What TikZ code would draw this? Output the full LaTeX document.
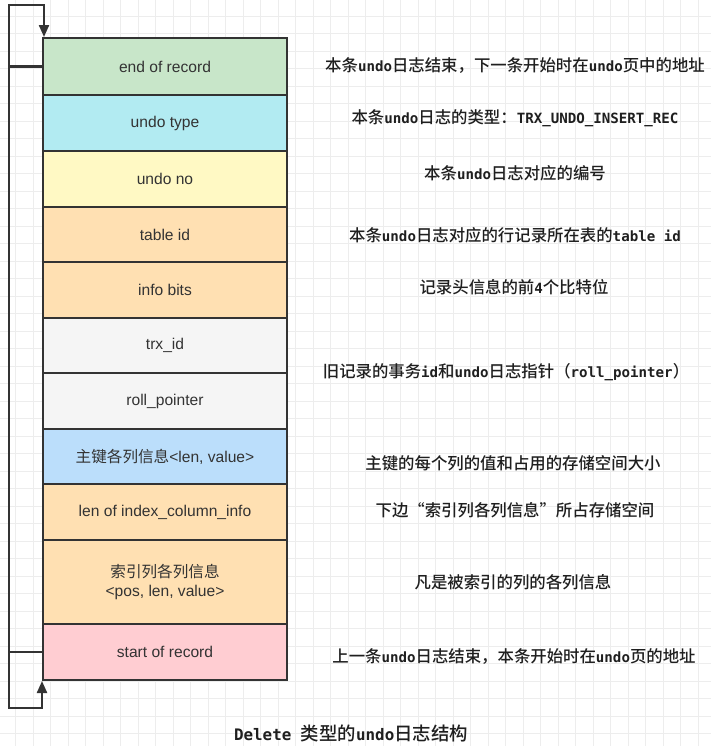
\documentclass[tikz,border=0pt]{standalone}
\usepackage{fontspec}
\usepackage{xcolor}
\usepackage{tikz}
\usetikzlibrary{arrows.meta, positioning}
\newfontfamily\boxfont{Liberation Sans}
\newfontfamily\boxcjk{Noto Sans CJK SC}
\newfontfamily\notemono{DejaVu Sans Mono}
\newfontfamily\notecjk{Noto Sans CJK SC}[Scale=1.16, BoldFont={Noto Sans CJK SC Medium}]
% switch fonts between Latin and CJK characters
\newXeTeXintercharclass\CJKcls
\count255="4E00
\loop\XeTeXcharclass\count255=\CJKcls\ifnum\count255<"9FFF\advance\count255 by 1\repeat
\count255="3000
\loop\XeTeXcharclass\count255=\CJKcls\ifnum\count255<"303F\advance\count255 by 1\repeat
\count255="FF00
\loop\XeTeXcharclass\count255=\CJKcls\ifnum\count255<"FFEF\advance\count255 by 1\repeat
\XeTeXcharclass"201C=\CJKcls
\XeTeXcharclass"201D=\CJKcls
\def\cjkswitch{}
\def\latswitch{}
\XeTeXinterchartoks 0 \CJKcls = {\cjkswitch}
\XeTeXinterchartoks 4095 \CJKcls = {\cjkswitch}
\XeTeXinterchartoks \CJKcls 0 = {\latswitch}
\XeTeXinterchartoks \CJKcls 4095 = {\latswitch}
\newcommand\boxtext{\fontsize{11.7pt}{14.5pt}\boxfont\def\cjkswitch{\boxcjk}\def\latswitch{\boxfont}\XeTeXinterchartokenstate=1 }
\newcommand\notetext{\fontsize{10.6pt}{13pt}\notecjk\bfseries\def\cjkswitch{\notecjk}\def\latswitch{\notemono}\XeTeXinterchartokenstate=1 }
\newcommand\titletext{\fontsize{11.9pt}{14pt}\notemono\bfseries\def\cjkswitch{\notecjk}\def\latswitch{\notemono}\XeTeXinterchartokenstate=1 }
\definecolor{lineclr}{HTML}{333333}
\definecolor{greenfill}{HTML}{C8E6C9}
\definecolor{cyanfill}{HTML}{B2EBF2}
\definecolor{yellowfill}{HTML}{FFF9C4}
\definecolor{orangefill}{HTML}{FFE0B2}
\definecolor{grayfill}{HTML}{F5F5F5}
\definecolor{bluefill}{HTML}{BBDEFB}
\definecolor{pinkfill}{HTML}{FFCDD2}
\tikzstyle{field} = [rectangle, draw=lineclr, line width=1.5pt, minimum width=183pt, text=lineclr, align=center, font=\boxtext]
\tikzstyle{note} = [font=\notetext, text=black!88]
\tikzstyle{arrow} = [draw=lineclr, line width=1.6pt, -{Triangle[length=9pt, width=7.5pt]}]
\tikzstyle{gridline} = [draw=black!7, line width=0.5pt]

\begin{document}
\begin{tikzpicture}[x=0.75pt, y=-0.75pt]
    \useasboundingbox (0,0) rectangle (711,746);
    \fill[white] (0,0) rectangle (711,746);
    \begin{scope}[shift={(15.8,16)}]
        \draw[gridline] (-15.8,730) grid[step=13.125pt] (695.2,-16);
    \end{scope}

    \node[field, fill=greenfill, minimum height=42.75pt] (eor) at (165, 66.5) {end of record};
    \node[field, fill=cyanfill, minimum height=42pt] (utype) at (165, 123) {undo type};
    \node[field, fill=yellowfill, minimum height=42pt] (uno) at (165, 179) {undo no};
    \node[field, fill=orangefill, minimum height=41.25pt] (tid) at (165, 234.5) {table id};
    \node[field, fill=orangefill, minimum height=42pt] (ibits) at (165, 290) {info bits};
    \node[field, fill=grayfill, minimum height=41.25pt] (trx) at (165, 345.5) {trx\_id};
    \node[field, fill=grayfill, minimum height=42pt] (rptr) at (165, 401) {roll\_pointer};
    \node[field, fill=bluefill, minimum height=41.25pt] (pkey) at (165, 456.5) {主键各列信息<len, value>};
    \node[field, fill=orangefill, minimum height=42pt] (lenidx) at (165, 512) {len of index\_column\_info};
    \node[field, fill=orangefill, minimum height=63pt] (idxcol) at (165, 582) {索引列各列信息\\<pos, len, value>};
    \node[field, fill=pinkfill, minimum height=42pt] (sor) at (165, 652) {start of record};

    % Notes
    \node[note] (neor) at (515, 66) {本条undo日志结束，下一条开始时在undo页中的地址};
    \node[note] (nutype) at (515, 118) {本条undo日志的类型：TRX\_UNDO\_INSERT\_REC};
    \node[note] (nuno) at (515, 173) {本条undo日志对应的编号};
    \node[note] (ntid) at (515, 235) {本条undo日志对应的行记录所在表的table id};
    \node[note] (nibits) at (514, 287) {记录头信息的前4个比特位};
    \node[note] (ntrx) at (506, 372) {旧记录的事务id和undo日志指针（roll\_pointer）};
    \node[note] (npkey) at (513, 463) {主键的每个列的值和占用的存储空间大小};
    \node[note] (nlenidx) at (515, 510) {下边“索引列各列信息”所占存储空间};
    \node[note] (nidxcol) at (513, 582) {凡是被索引的列的各列信息};
    \node[note] (nsor) at (514, 657) {上一条undo日志结束，本条开始时在undo页的地址};
    \node[note, font=\titletext] (title) at (351, 733) {Delete 类型的undo日志结构};

    % Arrows
    \coordinate (ltop) at (9, 5);
    \coordinate (lbot) at (9, 708);
    \draw[arrow] (sor.west) -| (ltop) -| ([xshift=1.5pt]eor.north west);
    \draw[arrow] (eor.west) -| (lbot) -| (sor.south west);
\end{tikzpicture}
\end{document}
